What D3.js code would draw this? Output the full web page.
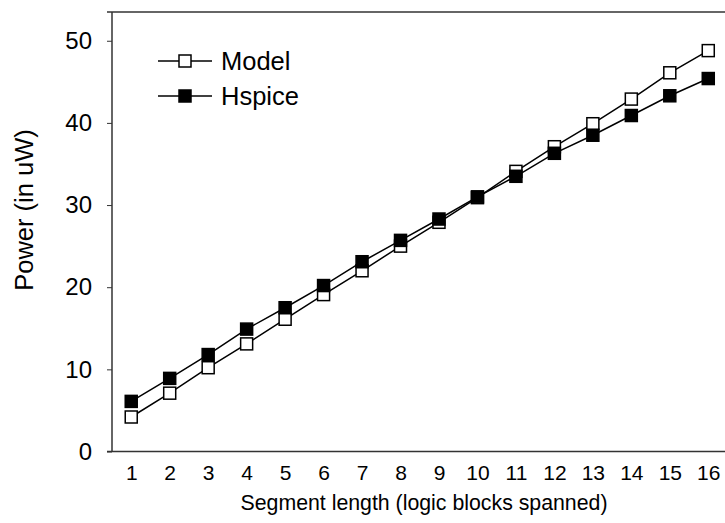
<!DOCTYPE html>
<html>
<head>
<meta charset="utf-8">
<script src="https://cdn.jsdelivr.net/npm/d3@7"></script>
<style>
  body { margin: 0; background: #fff; }
  text { font-family: Arial, "Liberation Sans", sans-serif; fill: #000; }
</style>
</head>
<body>
<div id="chart"></div>
<script>
// segment lengths (x categories)
var segments = [1, 2, 3, 4, 5, 6, 7, 8, 9, 10, 11, 12, 13, 14, 15, 16];
// power values, in uW
var modelPower  = [4.2, 7.1, 10.2, 13.1, 16.1, 19.1, 22.0, 25.0, 27.9, 30.9, 34.1, 37.1, 39.9, 42.9, 46.1, 48.8];
var hspicePower = [6.1, 8.9, 11.8, 14.9, 17.5, 20.2, 23.1, 25.7, 28.3, 31.0, 33.5, 36.3, 38.5, 40.9, 43.3, 45.4];
var yTicks = [0, 10, 20, 30, 40, 50];
var seriesNames = ["Model", "Hspice"];

var width = 725, height = 523;
// plot box (note: "top" is taken by window.top, so use plotTop)
var plotLeft = 112, plotTop = 12, plotBottom = 451.5, plotRight = 727.5;

var svg = d3.select("#chart").append("svg")
	.attr("width", width)
	.attr("height", height);

var x = d3.scalePoint()
	.domain(segments)
	.range([plotLeft, plotRight])
	.padding(0.5);

var y = d3.scaleLinear()
	.domain([0, 53.5])
	.range([plotBottom, plotTop]);

// frame lines
var axisColor = "#333";
svg.append("line")
	.attr("x1", plotLeft).attr("x2", plotLeft)
	.attr("y1", plotTop).attr("y2", plotBottom)
	.style("stroke", axisColor).style("stroke-width", 1.5);
svg.append("line")
	.attr("x1", plotLeft - 5).attr("x2", width)
	.attr("y1", plotTop).attr("y2", plotTop)
	.style("stroke", axisColor).style("stroke-width", 1.5);
svg.append("line")
	.attr("x1", plotLeft - 5).attr("x2", width)
	.attr("y1", plotBottom).attr("y2", plotBottom)
	.style("stroke", axisColor).style("stroke-width", 1.5);

// y axis
var yAxis = svg.append("g")
	.attr("transform", "translate(" + plotLeft + ",0)")
	.call(d3.axisLeft(y).tickValues(yTicks).tickSize(5).tickPadding(15));
yAxis.select(".domain").remove();
yAxis.selectAll(".tick line").style("stroke", axisColor);
yAxis.selectAll("text")
	.style("font-size", "24px")
	.attr("font-family", null);

// x axis
var xAxis = svg.append("g")
	.attr("transform", "translate(0," + plotBottom + ")")
	.call(d3.axisBottom(x).tickSize(0).tickPadding(14));
xAxis.select(".domain").remove();
xAxis.selectAll("text")
	.style("font-size", "21px")
	.attr("font-family", null);

// axis titles
svg.append("text")
	.attr("x", 424)
	.attr("y", 510)
	.attr("text-anchor", "middle")
	.style("font-size", "21.3px")
	.text("Segment length (logic blocks spanned)");

svg.append("text")
	.attr("transform", "translate(33,210) rotate(-90)")
	.attr("text-anchor", "middle")
	.style("font-size", "25.5px")
	.text("Power (in uW)");

// series
var series = [
	{name: seriesNames[0], values: modelPower, fill: "#fff"},
	{name: seriesNames[1], values: hspicePower, fill: "#000"}
];

var line = d3.line()
	.x(function(d, i) { return x(segments[i]); })
	.y(function(d) { return y(d); });

var ms = 12;

series.forEach(function(s) {
	svg.append("path")
		.datum(s.values)
		.attr("d", line)
		.style("fill", "none")
		.style("stroke", "#000")
		.style("stroke-width", 1.5);
});

series.forEach(function(s) {
	svg.selectAll(".m-" + s.name)
		.data(s.values)
		.enter()
		.append("rect")
		.attr("class", "m-" + s.name)
		.attr("x", function(d, i) { return x(segments[i]) - ms / 2; })
		.attr("y", function(d) { return y(d) - ms / 2; })
		.attr("width", ms)
		.attr("height", ms)
		.style("fill", s.fill)
		.style("stroke", "#000")
		.style("stroke-width", 1.5);
});

// legend
var legend = svg.append("g");
series.forEach(function(s, i) {
	var ly = 61 + i * 35;
	legend.append("line")
		.attr("x1", 158).attr("x2", 212)
		.attr("y1", ly).attr("y2", ly)
		.style("stroke", "#000").style("stroke-width", 1.5);
	legend.append("rect")
		.attr("x", 185 - ms / 2).attr("y", ly - ms / 2)
		.attr("width", ms).attr("height", ms)
		.style("fill", s.fill)
		.style("stroke", "#000")
		.style("stroke-width", 1.5);
	legend.append("text")
		.attr("x", 221)
		.attr("y", ly + 9)
		.style("font-size", "25.5px")
		.text(s.name);
});
</script>
</body>
</html>
